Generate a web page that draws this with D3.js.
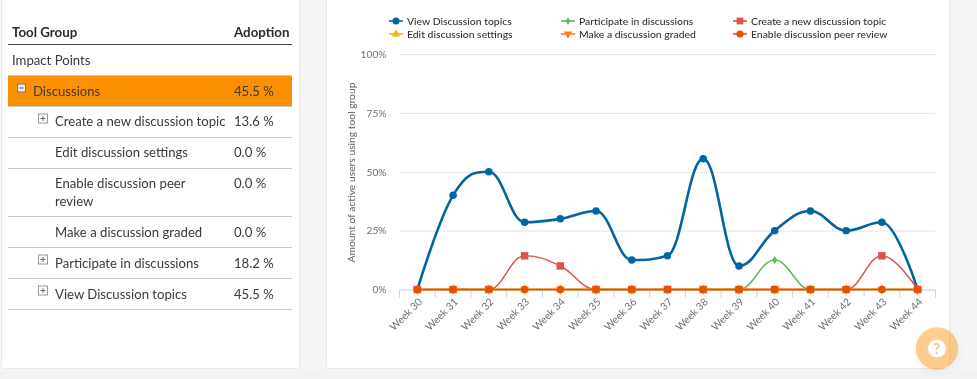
<!DOCTYPE html>
<html><head><meta charset="utf-8">
<script src="https://cdn.jsdelivr.net/npm/d3@7"></script>
<style>
html,body{margin:0;padding:0;background:#f5f5f5;overflow:hidden}
svg{display:block;font-family:Lato,sans-serif;filter:blur(0.3px)}
</style></head><body><svg id="c" width="977" height="379"></svg>
<script>
const weeks=["Week 30","Week 31","Week 32","Week 33","Week 34","Week 35","Week 36","Week 37","Week 38","Week 39","Week 40","Week 41","Week 42","Week 43","Week 44"];
const viewTopics=[0,40,50,28.57,30,33.33,12.5,14.29,55.56,10,25,33.33,25,28.57,0];
const participate=[0,0,0,0,0,0,0,0,0,0,12.5,0,0,0,0];
const createTopic=[0,0,0,14.29,10,0,0,0,0,0,0,0,0,14.29,0];
const editSettings=[0,0,0,0,0,0,0,0,0,0,0,0,0,0,0];
const makeGraded=[0,0,0,0,0,0,0,0,0,0,0,0,0,0,0];
const peerReview=[0,0,0,0,0,0,0,0,0,0,0,0,0,0,0];
const yTicks=[0,25,50,75,100];
const seriesNames=["View Discussion topics","Participate in discussions","Create a new discussion topic","Edit discussion settings","Make a discussion graded","Enable discussion peer review"];
const seriesValues=[viewTopics,participate,createTopic,editSettings,makeGraded,peerReview];
const seriesColors=["#01659f","#5cb85c","#d9534f","#ffb300","#ff7a1a","#e65100"];
const seriesWidths=[2.6,1.5,1.5,1.4,1.4,1.4];
const seriesSymbols=[d3.symbolCircle,d3.symbolDiamond,d3.symbolSquare,d3.symbolTriangle,d3.symbolTriangle,d3.symbolCircle];
const rowLabels=[["Discussions"],["Create a new discussion topic"],["Edit discussion settings"],["Enable discussion peer","review"],["Make a discussion graded"],["Participate in discussions"],["View Discussion topics"]];
const rowAdoption=["45.5 %","13.6 %","0.0 %","0.0 %","0.0 %","18.2 %","45.5 %"];
const rowExpander=["minus","plus","","","","plus","plus"];

const svg=d3.select("#c");
function card(x,y,w,h){svg.append("rect").attr("x",x+.5).attr("y",y+.5).attr("width",w).attr("height",h).attr("rx",3).attr("fill","#fff").attr("stroke","#e8e8e8");}
svg.append("rect").attr("y",371).attr("width",977).attr("height",8).attr("fill","#f3f3f3");
card(1,-6,298,374);card(326,-6,623,374);

// Table
const T=svg.append("g");
const textC="#3a3a3a",tableFont=13.15;
T.append("text").attr("x",12).attr("y",37).text("Tool Group").attr("font-size",13.3).attr("font-weight",700).attr("fill","#2b2b2b");
T.append("text").attr("x",234).attr("y",37).text("Adoption").attr("font-size",13.3).attr("font-weight",700).attr("fill","#2b2b2b");
T.append("line").attr("x1",8).attr("x2",292).attr("y1",44.5).attr("y2",44.5).attr("stroke","#444").attr("stroke-width",1.2);
T.append("text").attr("x",12).attr("y",65).text("Impact Points").attr("font-size",tableFont).attr("fill",textC);
T.append("line").attr("x1",8).attr("x2",292).attr("y1",75.5).attr("y2",75.5).attr("stroke","#ccc");
const rowTops=[76,106,137,168,216,247,278];
const rowBottoms=[106,137,168,216,247,278,309];
rowLabels.forEach((lines,i)=>{
  const top=rowTops[i],bot=rowBottoms[i];
  if(i===0)T.append("rect").attr("x",8).attr("y",top).attr("width",284).attr("height",bot-top).attr("fill","#fb9000");
  T.append("line").attr("x1",8).attr("x2",292).attr("y1",bot+.5).attr("y2",bot+.5).attr("stroke","#c8c8c8");
  const tx=i===0?33:55;
  const ty=i>=4?top+20.5:top+20;
  lines.forEach((s,j)=>T.append("text").attr("x",tx).attr("y",ty+j*18).text(s).attr("font-size",tableFont).attr("fill",textC));
  T.append("text").attr("x",234).attr("y",ty).text(rowAdoption[i]).attr("font-size",tableFont).attr("fill",textC);
  const ex=rowExpander[i];
  if(ex){
    const bx=i===0?17:38,by=top+8.5;
    if(ex==="minus"){
      T.append("rect").attr("x",bx+.5).attr("y",by-.5).attr("width",8).attr("height",8).attr("fill","#eee").attr("stroke","#777");
      T.append("line").attr("x1",bx+2.5).attr("x2",bx+6.5).attr("y1",by+3.5).attr("y2",by+3.5).attr("stroke","#444");
    }else{
      T.append("rect").attr("x",bx+.5).attr("y",by-.5).attr("width",9).attr("height",9).attr("fill","#fff").attr("stroke","#999");
      T.append("path").attr("d",`M${bx+2.5},${by+4}H${bx+7.5}M${bx+5},${by+1.5}V${by+6.5}`).attr("stroke","#666").attr("fill","none");
    }
  }
});

// Highcharts-style spline as a d3 curve
function hcSpline(ctx){
  let pts;
  return {
    lineStart(){pts=[];},
    point(x,y){pts.push([x,y]);},
    areaStart(){},areaEnd(){},
    lineEnd(){
      const s=1.5,d=2.5;let prevR=null;
      pts.forEach((p,i)=>{
        if(i===0){ctx.moveTo(p[0],p[1]);prevR=p;return;}
        const l=pts[i-1],n=pts[i+1];
        let L=p,R=p;
        if(n){
          const lx=(s*p[0]+l[0])/d,rx=(s*p[0]+n[0])/d;
          let ly=(s*p[1]+l[1])/d,ry=(s*p[1]+n[1])/d;
          const c=(ry-ly)*(rx-p[0])/(rx-lx)+p[1]-ry;
          ly+=c;ry+=c;
          if(ly>l[1]&&ly>p[1]){ly=Math.max(l[1],p[1]);ry=2*p[1]-ly;}
          else if(ly<l[1]&&ly<p[1]){ly=Math.min(l[1],p[1]);ry=2*p[1]-ly;}
          if(ry>p[1]&&ry>n[1]){ry=Math.max(p[1],n[1]);ly=2*p[1]-ry;}
          else if(ry<p[1]&&ry<n[1]){ry=Math.min(p[1],n[1]);ly=2*p[1]-ry;}
          L=[lx,ly];R=[rx,ry];
        }
        ctx.bezierCurveTo(prevR[0],prevR[1],L[0],L[1],p[0],p[1]);
        prevR=R;
      });
    }
  };
}

// Chart
const plot={l:399.5,r:935.5,t:54,b:289.5};
const x=d3.scaleBand().domain(weeks).range([plot.l,plot.r]);
const y=d3.scaleLinear().domain([0,100]).range([plot.b,plot.t]);
const C=svg.append("g");
const yAxis=C.append("g").attr("transform",`translate(${plot.l},0)`)
  .call(d3.axisLeft(y).tickValues(yTicks).tickFormat(d=>d+"%").tickSize(-(plot.r-plot.l)).tickPadding(13));
yAxis.select(".domain").remove();
yAxis.selectAll("line").attr("stroke","#e6e6e6");
yAxis.selectAll("text").attr("font-size",10.2).attr("fill","#707070").attr("font-family","Lato");
const xAxis=C.append("g").attr("transform",`translate(0,${plot.b})`)
  .call(d3.axisBottom(x).tickSizeOuter(0).tickSize(0));
xAxis.select(".domain").attr("stroke","#ccd6eb");
xAxis.selectAll("line").remove();
C.append("g").selectAll("line").data(weeks.concat(["end"])).join("line")
  .attr("x1",d=>d==="end"?plot.r:x(d)).attr("x2",d=>d==="end"?plot.r:x(d))
  .attr("y1",plot.b).attr("y2",plot.b+8).attr("stroke","#ccd6eb");
xAxis.selectAll("text").attr("font-size",10.3).attr("fill","#707070").attr("font-family","Lato")
  .attr("text-anchor","end").attr("dy",0).attr("y",0)
  .attr("transform","translate(5.5,13) rotate(-45)");
C.append("text").attr("transform","translate(354.5,172.5) rotate(-90)").attr("text-anchor","middle")
  .text("Amount of active users using tool group").attr("font-size",10.3).attr("fill","#666");

const px=w=>x(w)+x.bandwidth()/2;
const line=d3.line().x((v,i)=>px(weeks[i])).y(v=>y(v)).curve(hcSpline);
const sym=(i,size)=>d3.symbol().type(seriesSymbols[i]).size(size)();
const sizes=[44,20,56,38,38,46];
const flip=[false,false,false,false,true,false];
seriesValues.forEach((vals,i)=>{
  C.append("path").attr("d",line(vals)).attr("fill","none").attr("stroke",seriesColors[i]).attr("stroke-width",seriesWidths[i]);
});
seriesValues.forEach((vals,i)=>{
  C.append("g").selectAll("path").data(vals).join("path")
    .attr("d",sym(i,sizes[i])).attr("fill",seriesColors[i])
    .attr("fill-opacity",i===3||i===4?.55:1)
    .attr("transform",(v,k)=>`translate(${px(weeks[k])},${y(v)})${flip[i]?" rotate(180)":""}`);
});

// Legend
const legX=[391,563,735],legY=[21,34];
const legSizes=[40,18,46,30,30,40];
seriesNames.forEach((n,i)=>{
  const lx=legX[i%3],ly=legY[Math.floor(i/3)];
  const g=C.append("g");
  g.append("line").attr("x1",lx-2).attr("x2",lx+12).attr("y1",ly).attr("y2",ly).attr("stroke",seriesColors[i]).attr("stroke-width",1.6);
  g.append("path").attr("d",sym(i,legSizes[i])).attr("fill",seriesColors[i]).attr("transform",`translate(${lx+5},${ly})${flip[i]?" rotate(180)":""}`);
  g.append("text").attr("x",lx+16).attr("y",ly+3.8).text(n).attr("font-size",10.4).attr("font-weight",500).attr("fill","#333");
});

// Help button
const defs=svg.append("defs");
defs.append("filter").attr("id","sh").attr("x","-50%").attr("y","-50%").attr("width","200%").attr("height","200%")
  .append("feDropShadow").attr("dx",0).attr("dy",3).attr("stdDeviation",5).attr("flood-color","#000").attr("flood-opacity",.1);
const H=svg.append("g");
H.append("circle").attr("cx",937).attr("cy",348.5).attr("r",21.3).attr("fill","#ff9100").attr("fill-opacity",.42).attr("filter","url(#sh)");
H.append("circle").attr("cx",937).attr("cy",348.5).attr("r",9).attr("fill","#fff");
H.append("text").attr("x",937).attr("y",354).attr("text-anchor","middle").text("?").attr("font-size",15).attr("font-weight",900).attr("fill","#ffc488");
</script></body></html>
